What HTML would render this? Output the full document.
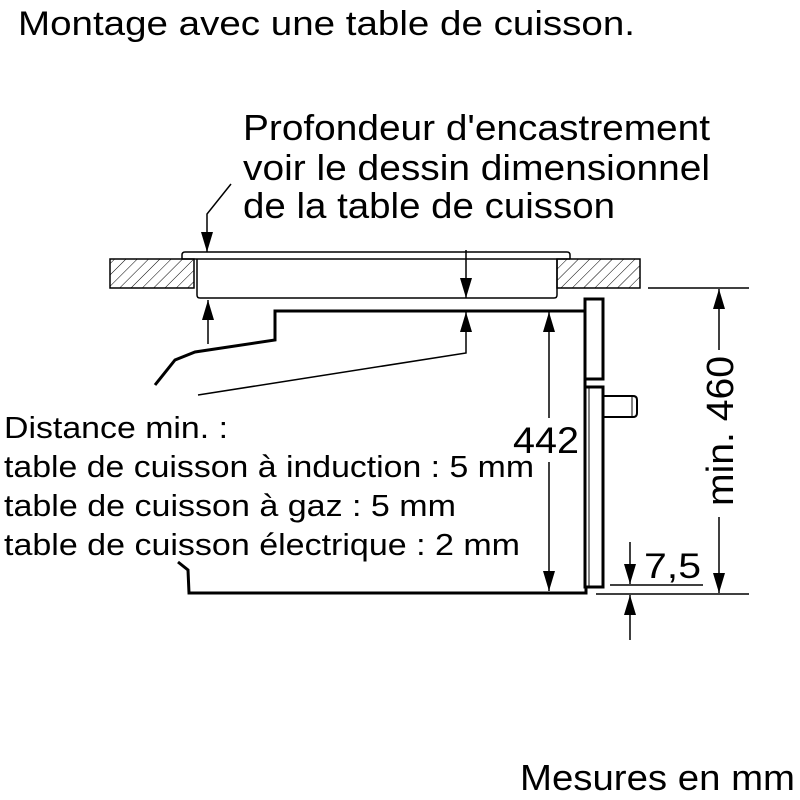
<!DOCTYPE html>
<html><head><meta charset="utf-8"><style>
html,body{margin:0;padding:0;background:#fff;}
svg{display:block;}
text{font-family:"Liberation Sans",Arial,sans-serif;fill:#000;}
</style></head><body>
<svg width="800" height="800" viewBox="0 0 800 800" xmlns="http://www.w3.org/2000/svg">
<defs>
<pattern id="h" patternUnits="userSpaceOnUse" width="8" height="8" patternTransform="rotate(45)">
<line x1="0" y1="0" x2="0" y2="8" stroke="#000" stroke-width="1"/>
</pattern>
<marker id="a" viewBox="0 0 20 12" refX="20" refY="6" markerWidth="20" markerHeight="12" markerUnits="userSpaceOnUse" orient="auto">
<path d="M0,0 L20,6 L0,12 z" fill="#000"/>
</marker>
</defs>
<text x="18" y="35" font-size="34" textLength="617" lengthAdjust="spacingAndGlyphs">Montage avec une table de cuisson.</text>
<text x="243" y="140" font-size="36" textLength="467" lengthAdjust="spacingAndGlyphs">Profondeur d'encastrement</text>
<text x="243" y="180" font-size="36" textLength="467" lengthAdjust="spacingAndGlyphs">voir le dessin dimensionnel</text>
<text x="243" y="218" font-size="36" textLength="372" lengthAdjust="spacingAndGlyphs">de la table de cuisson</text>

<rect x="110" y="259" width="84" height="29" fill="url(#h)" stroke="#000" stroke-width="1.5"/>
<rect x="557" y="259" width="83" height="29" fill="url(#h)" stroke="#000" stroke-width="1.5"/>
<path d="M182,259 L182,255 Q182,252 185,252 L567,252 Q570,252 570,255 L570,259" fill="none" stroke="#000" stroke-width="1.5"/>
<line x1="182" y1="259" x2="570" y2="259" stroke="#000" stroke-width="1.5"/>
<path d="M197,259 L197,295 Q197,298 200,298 L554,298 Q557,298 557,295 L557,259" fill="none" stroke="#000" stroke-width="1.5"/>

<polyline points="231,184 207,214 207,252" fill="none" stroke="#000" stroke-width="1.5" marker-end="url(#a)"/>
<line x1="466" y1="250" x2="466" y2="298" stroke="#000" stroke-width="1.5" marker-end="url(#a)"/>
<line x1="208" y1="344" x2="208" y2="300" stroke="#000" stroke-width="1.5" marker-end="url(#a)"/>

<polyline points="586,311 275,311 275,340 195,352 175,360 155,385" fill="none" stroke="#000" stroke-width="3"/>
<polyline points="198,395 466,353 466,312" fill="none" stroke="#000" stroke-width="1.5" marker-end="url(#a)"/>

<line x1="549" y1="418" x2="549" y2="312" stroke="#000" stroke-width="1.5" marker-end="url(#a)"/>
<line x1="549" y1="462" x2="549" y2="591" stroke="#000" stroke-width="1.5" marker-end="url(#a)"/>
<text x="513" y="453" font-size="37" textLength="66" lengthAdjust="spacingAndGlyphs">442</text>

<polyline points="178,562 188,570 189,593 586,593 586,586" fill="none" stroke="#000" stroke-width="3"/>
<rect x="585" y="299" width="18" height="80" fill="none" stroke="#000" stroke-width="3"/>
<path d="M585,379 L585,387 L603,387 L603,587 L585,587 Z" fill="none" stroke="#000" stroke-width="3"/>
<line x1="589" y1="387" x2="589" y2="587" stroke="#000" stroke-width="1"/>
<path d="M603,396 L633,396 Q637,396 637,400 L637,413 Q637,417 633,417 L603,417" fill="none" stroke="#000" stroke-width="2"/>
<line x1="632" y1="397" x2="632" y2="416" stroke="#000" stroke-width="1"/>

<line x1="648" y1="288" x2="749" y2="288" stroke="#000" stroke-width="1.5"/>
<line x1="596" y1="594" x2="749" y2="594" stroke="#000" stroke-width="1.5"/>
<line x1="719" y1="350" x2="719" y2="289" stroke="#000" stroke-width="1.5" marker-end="url(#a)"/>
<line x1="719" y1="517" x2="719" y2="593" stroke="#000" stroke-width="1.5" marker-end="url(#a)"/>
<text transform="translate(733,431) rotate(-90)" font-size="38" text-anchor="middle" textLength="150" lengthAdjust="spacingAndGlyphs">min. 460</text>

<line x1="610" y1="585" x2="703" y2="585" stroke="#000" stroke-width="1.5"/>
<line x1="630" y1="542" x2="630" y2="584" stroke="#000" stroke-width="1.5" marker-end="url(#a)"/>
<line x1="630" y1="640" x2="630" y2="595" stroke="#000" stroke-width="1.5" marker-end="url(#a)"/>
<text x="644" y="578" font-size="35" textLength="57" lengthAdjust="spacingAndGlyphs">7,5</text>

<text x="4" y="438" font-size="31" textLength="224" lengthAdjust="spacingAndGlyphs">Distance min. :</text>
<text x="4" y="477" font-size="31" textLength="530" lengthAdjust="spacingAndGlyphs">table de cuisson à induction : 5 mm</text>
<text x="4" y="516" font-size="31" textLength="452" lengthAdjust="spacingAndGlyphs">table de cuisson à gaz : 5 mm</text>
<text x="4" y="555" font-size="31" textLength="516" lengthAdjust="spacingAndGlyphs">table de cuisson électrique : 2 mm</text>

<text x="520" y="790" font-size="36" textLength="275" lengthAdjust="spacingAndGlyphs">Mesures en mm</text>
</svg>
</body></html>
